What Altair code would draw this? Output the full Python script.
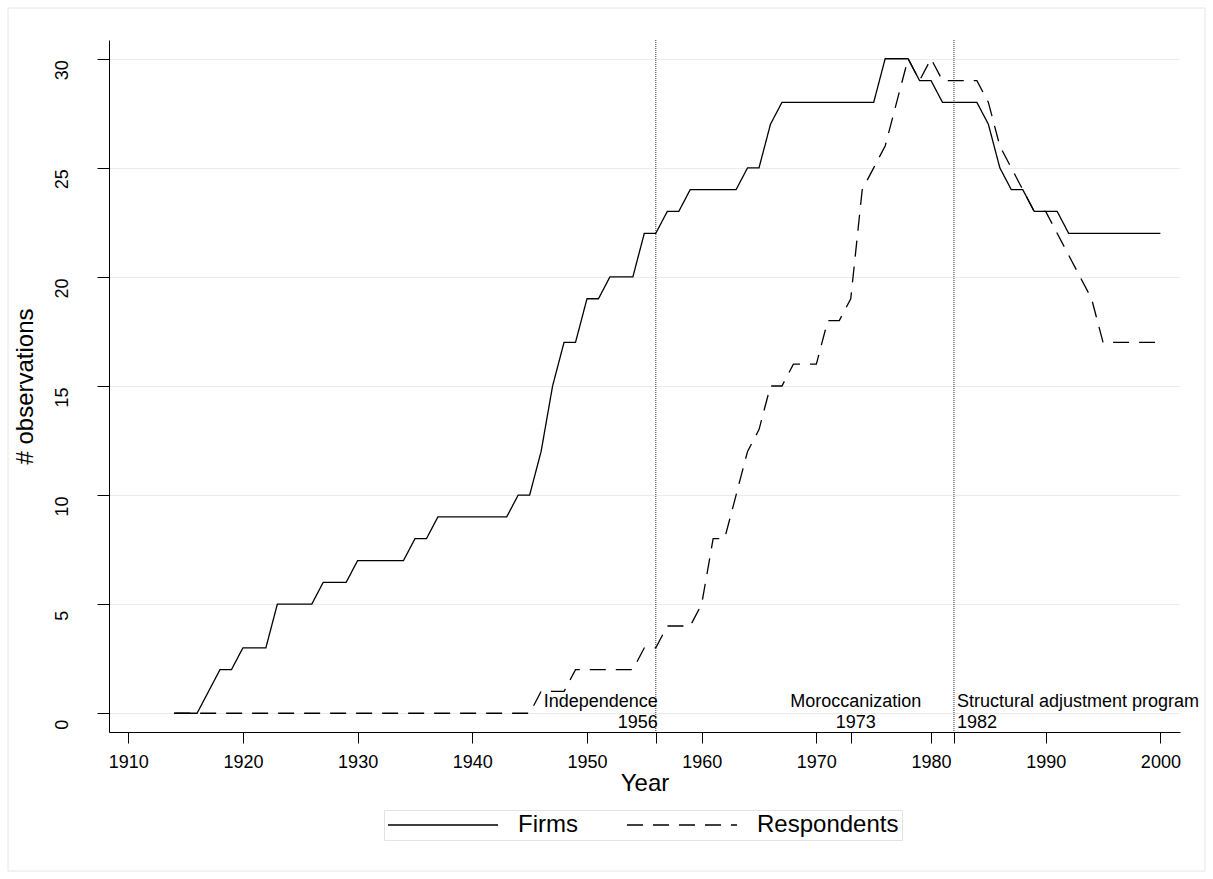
import altair as alt
import pandas as pd

FONT = "Liberation Sans"

years = [
    1914, 1915, 1916, 1917, 1918, 1919, 1920, 1921, 1922, 1923,
    1924, 1925, 1926, 1927, 1928, 1929, 1930, 1931, 1932, 1933,
    1934, 1935, 1936, 1937, 1938, 1939, 1940, 1941, 1942, 1943,
    1944, 1945, 1946, 1947, 1948, 1949, 1950, 1951, 1952, 1953,
    1954, 1955, 1956, 1957, 1958, 1959, 1960, 1961, 1962, 1963,
    1964, 1965, 1966, 1967, 1968, 1969, 1970, 1971, 1972, 1973,
    1974, 1975, 1976, 1977, 1978, 1979, 1980, 1981, 1982, 1983,
    1984, 1985, 1986, 1987, 1988, 1989, 1990, 1991, 1992, 1993,
    1994, 1995, 1996, 1997, 1998, 1999, 2000,
]
firms = [
    0, 0, 0, 1, 2, 2, 3, 3, 3, 5,
    5, 5, 5, 6, 6, 6, 7, 7, 7, 7,
    7, 8, 8, 9, 9, 9, 9, 9, 9, 9,
    10, 10, 12, 15, 17, 17, 19, 19, 20, 20,
    20, 22, 22, 23, 23, 24, 24, 24, 24, 24,
    25, 25, 27, 28, 28, 28, 28, 28, 28, 28,
    28, 28, 30, 30, 30, 29, 29, 28, 28, 28,
    28, 27, 25, 24, 24, 23, 23, 23, 22, 22,
    22, 22, 22, 22, 22, 22, 22,
]
respondents = [
    0, 0, 0, 0, 0, 0, 0, 0, 0, 0,
    0, 0, 0, 0, 0, 0, 0, 0, 0, 0,
    0, 0, 0, 0, 0, 0, 0, 0, 0, 0,
    0, 0, 1, 1, 1, 2, 2, 2, 2, 2,
    2, 3, 3, 4, 4, 4, 5, 8, 8, 10,
    12, 13, 15, 15, 16, 16, 16, 18, 18, 19,
    24, 25, 26, 28, 30, 29, 30, 29, 29, 29,
    29, 28, 26, 25, 24, 23, 23, 22, 21, 20,
    19, 17, 17, 17, 17, 17, 17,
]
series_names = ["Firms", "Respondents"]

event_years = [1956, 1973, 1982]
event_labels = ["Independence\n1956", "Moroccanization\n1973", "Structural adjustment program\n1982"]
event_line_years = [1956, 1982]

x_tick_values = [1910, 1920, 1930, 1940, 1950, 1960, 1970, 1980, 1990, 2000]
x_extra_ticks = [1956, 1973, 1982]
y_tick_values = [0, 5, 10, 15, 20, 25, 30]

df = pd.DataFrame({
    "Year": years + years,
    "value": firms + respondents,
    "series": [series_names[0]] * len(years) + [series_names[1]] * len(years),
})
events = pd.DataFrame({"Year": event_years, "label": event_labels})
event_lines = pd.DataFrame({"Year": event_line_years})

W, H = 1071, 692
LEFT, TOP = 109, 40

xscale = alt.Scale(domain=[1908.32, 2001.71], nice=False, zero=False)
yscale = alt.Scale(domain=[-0.86, 30.86], nice=False, zero=False)

legend = alt.Legend(
    title=None, orient="none", legendX=275, legendY=770, direction="horizontal",
    symbolType="M -1 0 L 9 0", symbolSize=484, symbolStrokeWidth=1.3,
    symbolStrokeColor="black", labelFont=FONT, labelFontSize=24, labelColor="black",
    labelOffset=107, columnPadding=46, padding=3, strokeColor="#e3e3e3",
    fillColor="white", labelLimit=0,
)

lines = alt.Chart(df).mark_line(color="black", strokeWidth=1.3).encode(
    x=alt.X("Year:Q", scale=xscale, axis=alt.Axis(
        values=x_tick_values + x_extra_ticks, format="d",
        labelExpr="datum.value % 10 == 0 ? datum.label : ''",
        title="Year", grid=False, tickSize=11, labelPadding=24,
        labelBaseline="alphabetic", labelFontSize=18,
        titleFontSize=24, titleBaseline="alphabetic", titleY=58,
    )),
    y=alt.Y("value:Q", scale=yscale, axis=alt.Axis(
        values=y_tick_values, title="# observations", grid=True,
        gridColor="#ebebeb", gridWidth=1, tickSize=12, labelAngle=-90,
        labelAlign="center", labelBaseline="alphabetic", labelPadding=30,
        labelOffset=11, labelFontSize=18, titleFontSize=24,
        titleX=-72, titleY=346,
    )),
    strokeDash=alt.StrokeDash("series:N", scale=alt.Scale(
        domain=series_names, range=[[1, 0], [16, 10]]), legend=legend),
    detail="series:N",
)

vlines = alt.Chart(event_lines).mark_rule(
    color="#333333", strokeWidth=1, strokeDash=[1, 1]
).encode(x=alt.X("Year:Q", scale=xscale))

txt_common = dict(font=FONT, fontSize=18, color="black", lineBreak="\n",
                  lineHeight=21.5, baseline="alphabetic")
t_right = alt.Chart(events).transform_filter("datum.Year == 1956").mark_text(
    align="right", dx=2, **txt_common
).encode(x=alt.X("Year:Q", scale=xscale), y=alt.value(666.5), text="label:N")
t_center = alt.Chart(events).transform_filter("datum.Year == 1973").mark_text(
    align="center", dx=5, **txt_common
).encode(x=alt.X("Year:Q", scale=xscale), y=alt.value(666.5), text="label:N")
t_left = alt.Chart(events).transform_filter("datum.Year == 1982").mark_text(
    align="left", dx=3, **txt_common
).encode(x=alt.X("Year:Q", scale=xscale), y=alt.value(666.5), text="label:N")

frame = alt.Chart(pd.DataFrame({"k": [0]})).mark_rect(
    fill=None, stroke="#e6e6e6", strokeWidth=1
).encode(x=alt.value(8 - LEFT), x2=alt.value(1205 - LEFT),
         y=alt.value(8 - TOP), y2=alt.value(871 - TOP))

chart = alt.layer(frame, vlines, lines, t_right, t_center, t_left).properties(
    width=W, height=H,
    autosize=alt.AutoSizeParams(type="none"),
    padding={"left": LEFT, "top": TOP, "right": 1213 - LEFT - W, "bottom": 879 - TOP - H},
    background="white",
).configure_view(stroke=None).configure_axis(
    labelFont=FONT, titleFont=FONT, labelColor="black", titleColor="black",
    titleFontWeight="normal", domainColor="black", domainWidth=1,
    tickColor="black", tickWidth=1,
)

chart.save("out.html", embed_options={"renderer": "svg", "actions": False})
